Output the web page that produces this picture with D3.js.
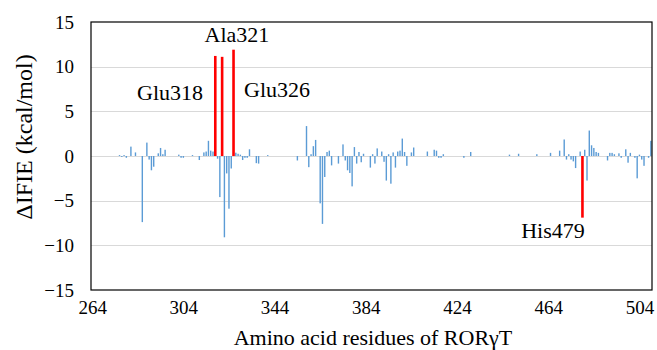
<!DOCTYPE html>
<html lang="en">
<head>
  <meta charset="UTF-8">
  <title>IFIE per residue</title>
  <script src="https://d3js.org/d3.v7.min.js"></script>
  <style>
    body { margin: 0; background: #fff; }
    svg text { font-family: "Liberation Serif", "Times New Roman", serif !important; }
    .grid line { stroke: #d9d9d9; stroke-width: 1; shape-rendering: crispEdges; }
    .bar { fill: #5b9bd5; }
    .key { fill: #ff0000; }
  </style>
</head>
<body>
<div id="chart"></div>
<script>
  // residues with a visible IFIE bar (others ~0)
  const residues = [276, 277, 278, 279, 281, 283, 286, 288, 289, 290, 291, 293, 294, 295, 296,
    302, 303, 304, 308, 311, 313, 314, 315, 316, 317, 319, 320, 322, 323, 324, 325, 327, 328, 329,
    330, 331, 332, 333, 336, 337, 341, 354, 358, 359, 360, 361, 362, 364, 365, 366, 367, 368, 369,
    372, 374, 375, 376, 377, 378, 379, 380, 381, 382, 383, 386, 387, 388, 389, 391, 392, 393, 394,
    395, 396, 397, 398, 399, 400, 401, 402, 404, 405, 411, 414, 415, 416, 417, 418, 427, 430, 447,
    451, 459, 465, 469, 471, 472, 473, 474, 475, 476, 478, 480, 481, 482, 483, 484, 485, 486, 490,
    491, 492, 493, 495, 496, 498, 499, 500, 502, 503, 504, 505, 506, 508, 509];
  const ifie = [0.1, -0.1, 0.1, -0.2, 1.05, 0.4, -7.4, 1.5, -0.4, -1.6, -1.2, 0.3, 0.9, 0.2, 0.7,
    0.15, -0.2, -0.2, 0.1, -0.45, 0.4, 0.5, 1.7, 0.6, 0.5, -0.3, -4.6, -9.1, -1.95, -5.9, -1.4, 0.37, 0.25, 0.15,
    -0.45, -0.2, -0.2, 0.75, -0.8, -0.85, 0.1, -0.5, 3.35, -1.25, 0.2, 1.1, 1.8, -5.3, -7.6, -2.35, 0.45, 0.6, -1.05,
    -0.85, 1.3, -0.5, -1.6, -1.9, -3.4, 1.0, -0.85, 0.45, -0.7, 0.25, -1.3, 0.2, -0.85, 0.85, 0.5, -0.65, -2.75, 0.2,
    -3.1, 0.4, -1.3, 0.5, 0.6, 1.95, 0.45, -1.1, 0.4, 0.95, 0.5, 0.7, 0.6, -0.2, -0.2, 0.2, -0.2, 0.45, 0.15,
    0.25, 0.2, 0.35, 0.6, 1.85, -0.4, 0.2, -0.4, -0.6, -1.35, 0.5, 0.7, -2.75, 2.85, 1.2, 0.9, 0.45, 0.35, -0.5,
    0.35, 0.35, 0.2, 0.3, -0.2, 0.75, -0.75, 0.35, -0.2, -2.5, 0.15, -0.4, -1.1, -0.2, 1.7];

  // highlighted residues
  const keyNames = ["Glu318", "Ala321", "Glu326", "His479"];
  const keyResidues = [318, 321, 326, 479];
  const keyValues = [11.2, 11.1, 11.9, -6.9];

  const xTicks = [264, 304, 344, 384, 424, 464, 504];
  const yTicks = [-15, -10, -5, 0, 5, 10, 15];

  const width = 657, height = 350;
  const margin = { top: 22, right: 5, bottom: 60, left: 91 };
  const serif = "Liberation Serif";

  const svg = d3.select("#chart").append("svg")
    .attr("width", width)
    .attr("height", height);

  const x = d3.scaleLinear().domain([263.5, 509.5]).range([margin.left, width - margin.right]);
  const y = d3.scaleLinear().domain([-15, 15]).range([height - margin.bottom, margin.top]);

  // gridlines
  svg.append("g")
    .attr("class", "grid")
    .selectAll("line")
    .data(yTicks.filter(d => d > -15 && d < 15))
    .enter().append("line")
    .attr("x1", x.range()[0])
    .attr("x2", x.range()[1])
    .attr("y1", d => Math.round(y(d)) + 0.5)
    .attr("y2", d => Math.round(y(d)) + 0.5);

  const barW = 1.4;
  svg.selectAll(".bar")
    .data(residues.map((r, i) => ({ r: r, v: ifie[i] })))
    .enter().append("rect")
    .attr("class", "bar")
    .attr("x", d => x(d.r) - barW / 2)
    .attr("width", barW)
    .attr("y", d => y(Math.max(0, d.v)))
    .attr("height", d => Math.abs(y(d.v) - y(0)));

  const keyW = 2.6;
  svg.selectAll(".key")
    .data(keyResidues.map((r, i) => ({ r: r, v: keyValues[i] })))
    .enter().append("rect")
    .attr("class", "key")
    .attr("x", d => x(d.r) - keyW / 2)
    .attr("width", keyW)
    .attr("y", d => y(Math.max(0, d.v)))
    .attr("height", d => Math.abs(y(d.v) - y(0)));

  // plot frame
  svg.append("rect")
    .attr("x", x.range()[0])
    .attr("y", y(15))
    .attr("width", x.range()[1] - x.range()[0])
    .attr("height", y(-15) - y(15))
    .attr("fill", "none")
    .attr("stroke", "#000")
    .attr("stroke-width", 1.2);

  // axes (labels only, Excel style)
  const yAxis = svg.append("g")
    .attr("transform", "translate(" + (margin.left - 17) + ",0)")
    .call(d3.axisLeft(y).tickValues(yTicks).tickSize(0).tickPadding(0));
  yAxis.attr("font-size", 19);
  yAxis.select(".domain").remove();
  yAxis.selectAll("text").attr("dy", "0.33em").attr("fill", "#000");

  const xAxis = svg.append("g")
    .attr("transform", "translate(0," + (height - margin.bottom + 10) + ")")
    .call(d3.axisBottom(x).tickValues(xTicks).tickFormat(d3.format("d")).tickSize(0).tickPadding(0));
  xAxis.attr("font-size", 19);
  xAxis.select(".domain").remove();
  xAxis.selectAll("text").attr("dy", "0.71em").attr("fill", "#000");

  // residue labels
  const labelPos = [[170, 100], [237, 42], [277, 97], [553, 238]];
  svg.selectAll(".lbl")
    .data(keyNames)
    .enter().append("text")
    .attr("class", "lbl")
    .attr("x", (d, i) => labelPos[i][0])
    .attr("y", (d, i) => labelPos[i][1])
    .attr("text-anchor", "middle")
    .attr("font-size", 22)
    .text(d => d);

  // axis titles
  svg.append("text")
    .attr("x", 373)
    .attr("y", 345)
    .attr("text-anchor", "middle")
    .attr("font-size", 22)
    .text("Amino acid residues of RORγT");

  svg.append("text")
    .attr("transform", "translate(32,137) rotate(-90)")
    .attr("text-anchor", "middle")
    .attr("font-size", 24)
    .text("ΔIFIE (kcal/mol)");

  // set the face with plain DOM calls on every text
  svg.node().querySelectorAll("g").forEach(g => g.removeAttribute("font-family"));
  svg.node().querySelectorAll("text").forEach(t => {
    t.setAttribute("font-family", serif);
    t.style.setProperty("font-family", "'Liberation Serif', serif", "important");
  });
</script>
</body>
</html>
